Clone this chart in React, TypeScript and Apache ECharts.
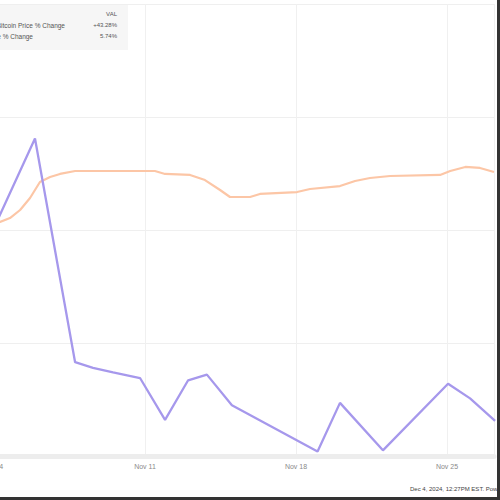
import React, { useEffect, useRef } from "react";
import * as echarts from "echarts";

// x = days since Nov 4, y = % change
const purpleDays = [0, 1.9, 3.76, 4.59, 5.52, 6.77, 7.93, 9.0, 9.87, 11.03, 15.0, 16.04, 18.03, 21.05, 22.07, 23.23];
const purpleVals = [10.2, 18.1, -1.7, -2.2, -2.6, -3.1, -6.8, -3.3, -2.8, -5.5, -9.6, -5.3, -9.5, -3.6, -4.9, -6.9];

const orangeDays = [0, 0.28, 0.74, 1.21, 1.67, 2.13, 2.6, 3.06, 3.76, 4.91, 6.31, 7.46, 7.93, 9.09, 9.78, 10.48, 10.94, 11.87, 12.33, 14.05, 14.65, 16.04, 16.74, 17.43, 18.36, 20.68, 21.15, 21.85, 22.53, 23.18];
const orangeVals = [10.6, 10.71, 11.06, 11.77, 12.83, 14.25, 14.69, 14.96, 15.22, 15.22, 15.22, 15.22, 14.96, 14.87, 14.42, 13.54, 12.92, 12.92, 13.19, 13.36, 13.63, 13.89, 14.34, 14.6, 14.78, 14.87, 15.22, 15.58, 15.49, 15.13];

const tickLabels = ["Nov 4", "Nov 11", "Nov 18", "Nov 25"];
const legendNames = ["Bitcoin Price % Change", "S&P 500 Price % Change"];
const legendValues = ["+43.28%", "5.74%"];
const footer = "Dec 4, 2024, 12:27PM EST. Powered by YCHARTS";

export default function App() {
  const ref = useRef<HTMLDivElement>(null);
  useEffect(() => {
    if (!ref.current) return;
    const chart = echarts.init(ref.current, null, { renderer: "svg" });
    const purple = purpleDays.map((d, i) => [d, purpleVals[i]]);
    const orange = orangeDays.map((d, i) => [d, orangeVals[i]]);
    chart.setOption({
      animation: false,
      backgroundColor: "#ffffff",
      grid: { left: 0, right: 6, top: 4, bottom: 44, containLabel: false, outerBoundsMode: "none" },
      xAxis: {
        type: "value",
        min: 0,
        max: 23.18,
        interval: 7,
        axisLine: { show: true, onZero: false, lineStyle: { color: "#ededed", width: 5 } },
        axisTick: { show: false },
        splitLine: { show: true, lineStyle: { color: "#f0f0f0", width: 1 } },
        axisLabel: {
          color: "#8a8a8a",
          fontSize: 7,
          fontFamily: "Liberation Sans",
          margin: 7,
          showMaxLabel: false,
          formatter: (v: number) => tickLabels[Math.round(v / 7)] ?? "",
        },
      },
      yAxis: {
        type: "value",
        min: -10,
        max: 30,
        interval: 10,
        axisLine: { show: false },
        axisTick: { show: false },
        axisLabel: { show: false },
        splitLine: { show: true, lineStyle: { color: "#efefef", width: 1 } },
      },
      series: [
        {
          type: "line",
          name: legendNames[1],
          data: orange,
          showSymbol: false,
          lineStyle: { color: "#fcc6a6", width: 2.2 },
          z: 2,
        },
        {
          type: "line",
          name: legendNames[0],
          data: purple,
          showSymbol: false,
          lineStyle: { color: "#a698ec", width: 2.3 },
          z: 3,
        },
      ],
      graphic: [
        {
          type: "rect",
          left: 6,
          top: 5,
          shape: { width: 128, height: 45 },
          style: { fill: "#f6f6f6" },
          z: 10,
        },
        {
          type: "text",
          x: 123,
          y: 14,
          style: { text: "VAL", fill: "#555", fontSize: 6, fontFamily: "Liberation Sans", textAlign: "right", textVerticalAlign: "middle" },
          z: 11,
        },
        {
          type: "text",
          x: 71,
          y: 25,
          style: { text: legendNames[0], fill: "#555", fontSize: 6.5, fontFamily: "Liberation Sans", textAlign: "right", textVerticalAlign: "middle" },
          z: 11,
        },
        {
          type: "text",
          x: 123,
          y: 25,
          style: { text: legendValues[0], fill: "#555", fontSize: 6, fontFamily: "Liberation Sans", textAlign: "right", textVerticalAlign: "middle" },
          z: 11,
        },
        {
          type: "text",
          x: 39,
          y: 36,
          style: { text: legendNames[1], fill: "#555", fontSize: 6.5, fontFamily: "Liberation Sans", textAlign: "right", textVerticalAlign: "middle" },
          z: 11,
        },
        {
          type: "text",
          x: 123,
          y: 36,
          style: { text: legendValues[1], fill: "#555", fontSize: 6, fontFamily: "Liberation Sans", textAlign: "right", textVerticalAlign: "middle" },
          z: 11,
        },
        {
          type: "text",
          x: 416,
          y: 489,
          style: { text: footer, fill: "#444", fontSize: 6, fontFamily: "Liberation Sans", textVerticalAlign: "middle" },
          z: 11,
        },
        {
          type: "rect",
          left: 503,
          top: 0,
          shape: { width: 3, height: 500 },
          style: { fill: "#333" },
          z: 12,
        },
        {
          type: "rect",
          left: 0,
          top: 497,
          shape: { width: 506, height: 3 },
          style: { fill: "#333" },
          z: 12,
        },
      ],
    });
    return () => chart.dispose();
  }, []);
  return (
    <div style={{ position: "fixed", left: 0, top: 0, width: 500, height: 500, overflow: "hidden", background: "#fff" }}>
      <div ref={ref} style={{ position: "absolute", left: -6, top: 0, width: 506, height: 500 }} />
    </div>
  );
}
